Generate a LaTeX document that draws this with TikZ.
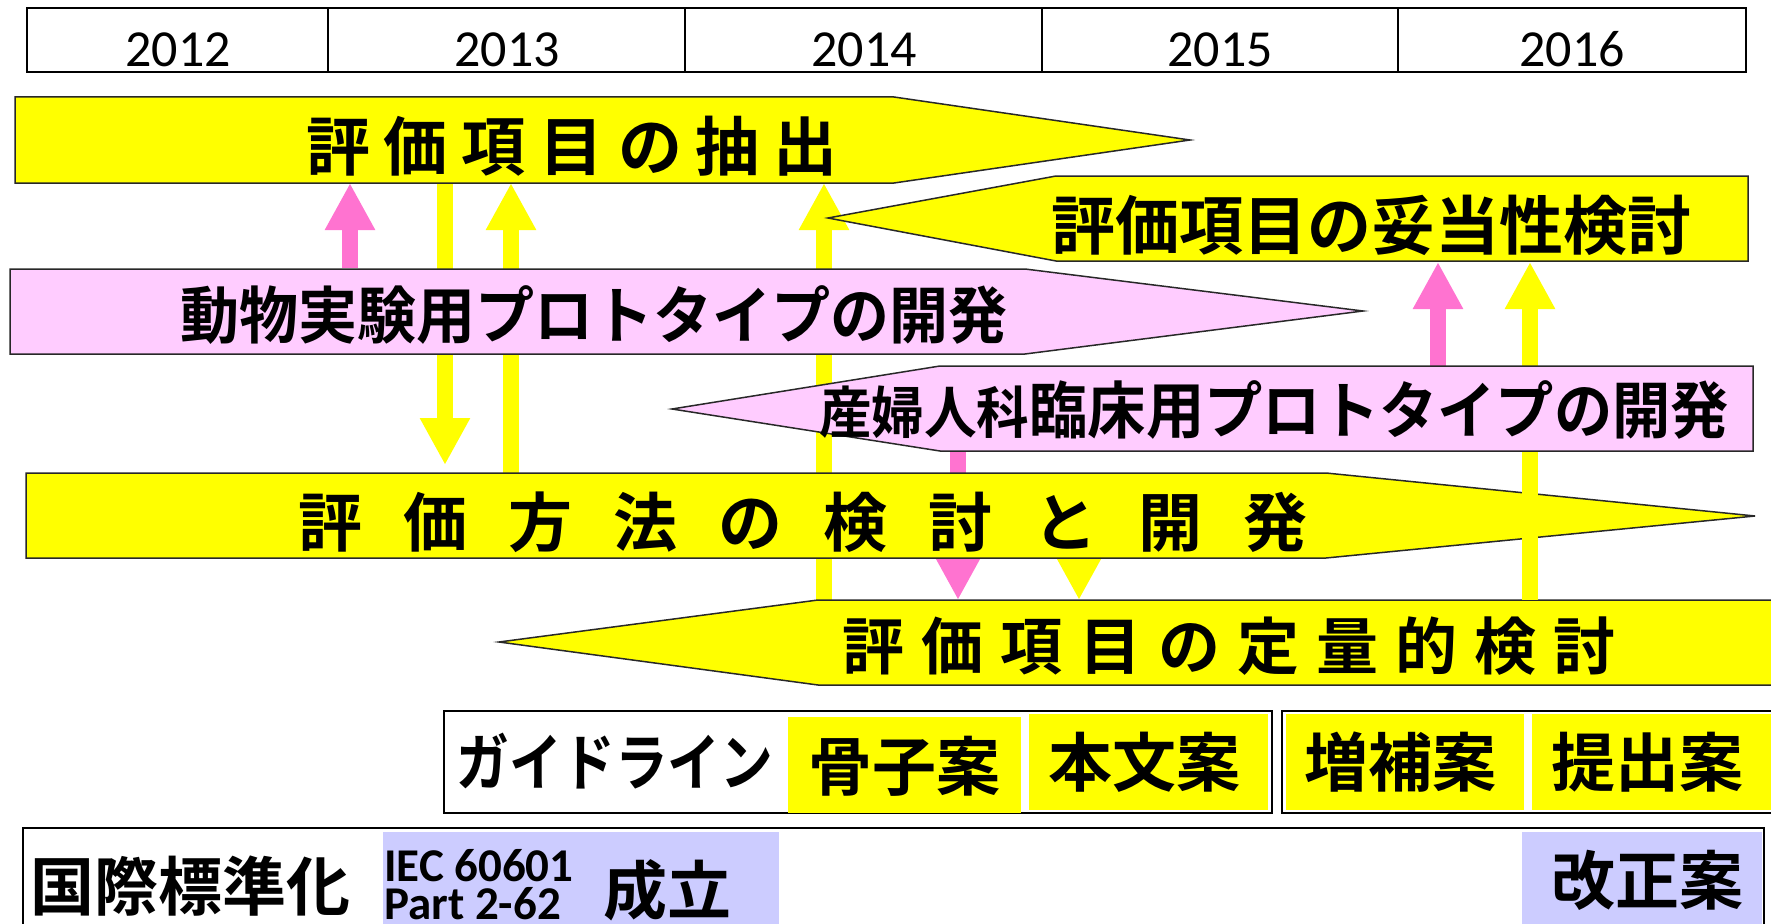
\documentclass[tikz,border=0pt]{standalone}
\usepackage{fontspec}
\usepackage{graphicx}
\usetikzlibrary{arrows.meta}
\newfontfamily\jpf{Noto Sans CJK JP}[BoldFont={Noto Sans CJK JP Bold}]
\newfontfamily\carf{Carlito}
\definecolor{yel}{RGB}{255,255,0}
\definecolor{pinkbox}{RGB}{255,204,255}
\definecolor{pinkarr}{RGB}{255,115,208}
\definecolor{lav}{RGB}{204,204,255}
\definecolor{edge}{RGB}{40,40,40}
\tikzset{
  jt/.style={font=\jpf\bfseries\fontsize{#1}{#1}\selectfont, inner sep=0pt},
  yeartxt/.style={font=\carf\fontsize{52}{52}\selectfont, inner sep=0pt, anchor=base},
  iectxt/.style={font=\carf\bfseries\fontsize{47}{47}\selectfont, inner sep=0pt, anchor=base west},
  shapebox/.style={draw=edge, line width=1.5pt, line join=miter},
  yarr/.style={draw=yel, line width=16pt, -{Triangle[length=47pt,width=47pt]}},
  parr/.style={draw=pinkarr, line width=16pt, -{Triangle[length=47pt,width=47pt]}},
  frame/.style={draw=black, line width=2.5pt},
}
\begin{document}
\begin{tikzpicture}[x=1pt,y=-1pt]
\useasboundingbox (0,0) rectangle (1771,923);
% ---------- year table ----------
\draw[line width=2pt] (27,8) rectangle (1746,72);
\foreach \x in {328,685,1042,1398} \draw[line width=1.5pt] (\x,8) -- (\x,72);
\node[yeartxt] (y2012) at (178,67) {2012};
\node[yeartxt] (y2013) at (507,67) {2013};
\node[yeartxt] (y2014) at (864,67) {2014};
\node[yeartxt] (y2015) at (1220,67) {2015};
\node[yeartxt] (y2016) at (1572,67) {2016};
% ---------- arrow end points ----------
\coordinate (a1s) at (350,268);  \coordinate (a1e) at (350,183);
\coordinate (a2s) at (445,183);  \coordinate (a2e) at (445,465);
\coordinate (a3s) at (511,473);  \coordinate (a3e) at (511,183);
\coordinate (a4s) at (824,600);  \coordinate (a4e) at (824,183);
\coordinate (a5s) at (958,451);  \coordinate (a5e) at (958,600);
\coordinate (a6s) at (1079,516); \coordinate (a6e) at (1079,600);
\coordinate (a7s) at (1438,366); \coordinate (a7e) at (1438,262);
\coordinate (a8s) at (1530,600); \coordinate (a8e) at (1530,262);
% arrows behind the boxes
\draw[parr] (a1s) -- (a1e);
\draw[yarr] (a2s) -- (a2e);
\draw[yarr] (a3s) -- (a3e);
\draw[yarr] (a4s) -- (a4e);
\draw[parr] (a5s) -- (a5e);
\draw[yarr] (a6s) -- (a6e);
% ---------- yellow arrow boxes ----------
\path[shapebox, fill=yel] (15,97) -- (894,97) -- (1190,140) -- (894,183) -- (15,183) -- cycle;
\path[shapebox, fill=yel] (1748,176) -- (1056,176) -- (828,218) -- (1056,261) -- (1748,261) -- cycle;
\path[shapebox, fill=yel] (26,473) -- (1326,473) -- (1755,516) -- (1326,558) -- (26,558) -- cycle;
\path[shapebox, fill=yel] (1790,600) -- (818,600) -- (499,642) -- (818,685) -- (1790,685) -- cycle;
% arrows in front of the yellow boxes
\draw[parr] (a7s) -- (a7e);
\draw[yarr] (a8s) -- (a8e);
% ---------- pink arrow boxes ----------
\path[shapebox, fill=pinkbox] (10,269) -- (1025,269) -- (1363,311) -- (1025,354) -- (10,354) -- cycle;
\path[shapebox, fill=pinkbox] (1753,366) -- (940,366) -- (672,409) -- (940,451) -- (1753,451) -- cycle;
% ---------- texts of the arrow boxes ----------
\node[jt=64] (t1) at (572,146) {評\kern14pt 価\kern14pt 項\kern14pt 目\kern14pt の\kern14pt 抽\kern14pt 出};
\node[jt=64] (t2) at (1371,225) {評価項目の妥当性検討};
\node[jt=62] (t3) at (594,315) {\scalebox{0.952}[1]{動物実験用プロトタイプの開発}};
\node[jt=62] (t4) at (1274,410) {\scalebox{0.94}[1]{\fontsize{56}{56}\selectfont 産婦人科\fontsize{62}{62}\selectfont 臨床用プロトタイプの開発}};
\node[jt=64] (t5) at (803,522) {評\kern41pt 価\kern41pt 方\kern41pt 法\kern41pt の\kern41pt 検\kern41pt 討\kern41pt と\kern41pt 開\kern41pt 発};
\node[jt=62] (t6) at (1229,646) {評\kern17pt 価\kern17pt 項\kern17pt 目\kern17pt の\kern17pt 定\kern17pt 量\kern17pt 的\kern17pt 検\kern17pt 討};
% ---------- guideline row ----------
\draw[frame] (444,711) rectangle (1272,813);
\draw[frame] (1282,711) rectangle (1790,813);
\fill[yel] (788,717) rectangle (1021,813);
\fill[yel] (1029,714) rectangle (1268,810);
\fill[yel] (1286,714) rectangle (1524,810);
\fill[yel] (1532,714) rectangle (1790,810);
\node[jt=62] (g0) at (615,761) {\scalebox{0.85}[1]{ガイドライン}};
\node[jt=64] (g1) at (904,766) {骨子案};
\node[jt=64] (g2) at (1144,762) {本文案};
\node[jt=64] (g3) at (1400,762) {増補案};
\node[jt=64] (g4) at (1647,762) {提出案};
% ---------- international standard row ----------
\draw[frame] (23,828) rectangle (1764,980);
\fill[lav] (383,832) rectangle (779,980);
\fill[lav] (1522,832) rectangle (1762,980);
\node[jt=64] (s0) at (190,886) {国際標準化};
\node[iectxt] (s1) at (384,881) {IEC 60601};
\node[iectxt] (s2) at (384,919) {Part 2-62};
\node[jt=64] (s3) at (667,890) {成立};
\node[jt=64] (s4) at (1647,880) {改正案};
\end{tikzpicture}
\end{document}
